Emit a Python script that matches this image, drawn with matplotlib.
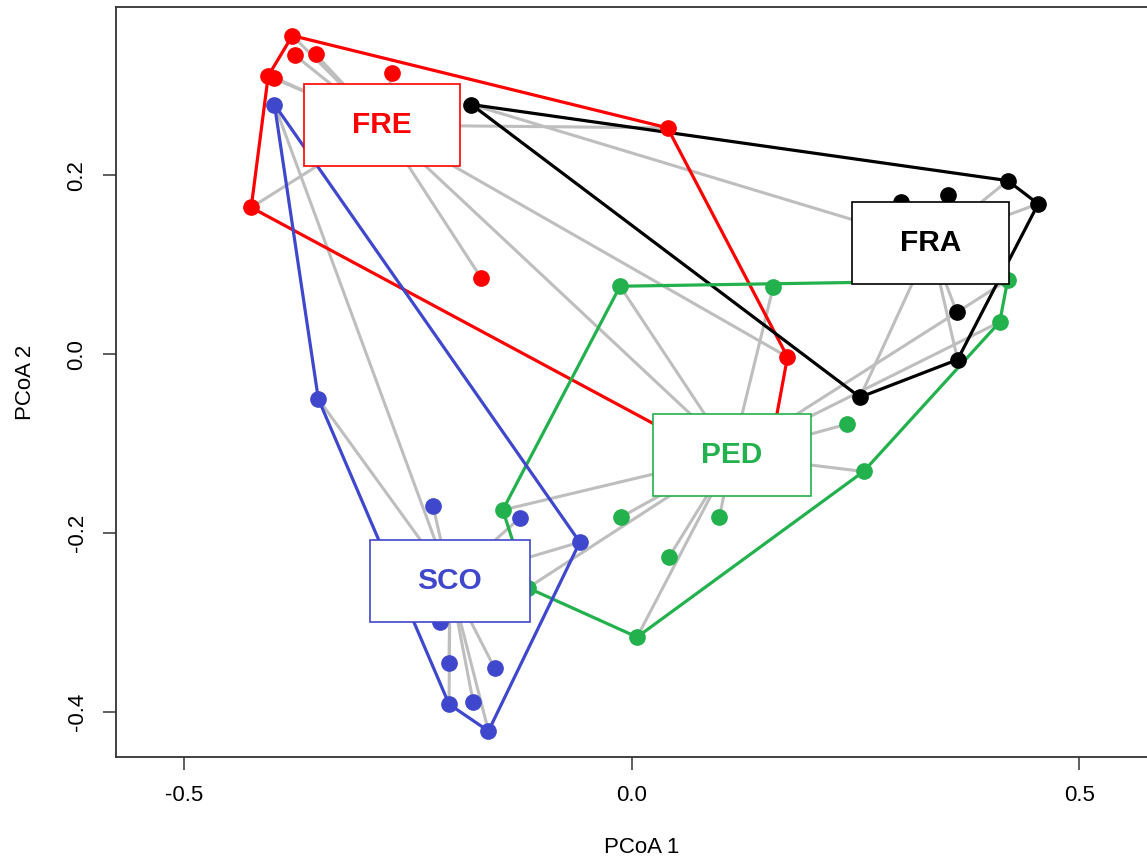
import matplotlib
matplotlib.use('Agg')
import matplotlib.pyplot as plt
from matplotlib.patches import Rectangle
import numpy as np

plt.rcParams['font.family'] = ['Liberation Sans', 'DejaVu Sans']

# site scores per group (PCoA 1, PCoA 2)
fre_x = [-0.379, -0.376, -0.353, -0.268, -0.406, -0.399, -0.425, -0.168, 0.040, 0.174, 0.148]
fre_y = [0.356, 0.334, 0.335, 0.314, 0.311, 0.309, 0.164, 0.085, 0.253, -0.003, -0.144]

fra_x = [-0.179, 0.420, 0.454, 0.353, 0.301, 0.363, 0.364, 0.255]
fra_y = [0.279, 0.194, 0.168, 0.178, 0.170, 0.047, -0.006, -0.048]

ped_x = [-0.013, 0.158, 0.420, 0.411, 0.241, 0.259, -0.144, -0.012, 0.098, 0.042, 0.006, -0.116]
ped_y = [0.076, 0.075, 0.083, 0.036, -0.078, -0.131, -0.174, -0.182, -0.182, -0.226, -0.316, -0.261]

sco_x = [-0.399, -0.350, -0.222, -0.125, -0.058, -0.214, -0.204, -0.153, -0.204, -0.177, -0.160]
sco_y = [0.279, -0.050, -0.169, -0.183, -0.210, -0.299, -0.345, -0.351, -0.391, -0.389, -0.421]

groups = ['FRE', 'FRA', 'PED', 'SCO']
colors = ['#FF0000', '#000000', '#22B14C', '#3F48CC']
# group centres (spider hubs / label positions)
cen_x = [-0.279, 0.334, 0.112, -0.203]
cen_y = [0.256, 0.124, -0.113, -0.253]

xs = [fre_x, fra_x, ped_x, sco_x]
ys = [fre_y, fra_y, ped_y, sco_y]


def convex_hull(px, py):
    pts = sorted(set(zip(px, py)))
    def cross(o, a, b):
        return (a[0] - o[0]) * (b[1] - o[1]) - (a[1] - o[1]) * (b[0] - o[0])
    lower, upper = [], []
    for p in pts:
        while len(lower) >= 2 and cross(lower[-2], lower[-1], p) <= 0:
            lower.pop()
        lower.append(p)
    for p in reversed(pts):
        while len(upper) >= 2 and cross(upper[-2], upper[-1], p) <= 0:
            upper.pop()
        upper.append(p)
    hull = lower[:-1] + upper[:-1]
    hull.append(hull[0])
    return np.array(hull)


W, H = 1147, 866
fig = plt.figure(figsize=(W / 100, H / 100), dpi=100)
ax_l, ax_r, ax_b, ax_t = 116, 1168, 757, 7
ax = fig.add_axes([ax_l / W, (H - ax_b) / H, (ax_r - ax_l) / W, (ax_b - ax_t) / H])
ax.set_xlim(-0.576, 0.599)
ax.set_ylim(-0.450, 0.388)

# spider lines
for gx, gy, cx, cy in zip(xs, ys, cen_x, cen_y):
    for px, py in zip(gx, gy):
        ax.plot([cx, px], [cy, py], color='#BEBEBE', lw=2.2, zorder=1, solid_capstyle='butt')

# hulls
for gx, gy, c in zip(xs, ys, colors):
    h = convex_hull(gx, gy)
    ax.plot(h[:, 0], h[:, 1], color=c, lw=2.3, zorder=2)

# points
for gx, gy, c in zip(xs, ys, colors):
    ax.plot(gx, gy, 'o', color=c, ms=11, mec=c, zorder=3)

# labels in boxes at group centres
fig.canvas.draw()
r = fig.canvas.get_renderer()
ux = (0.599 + 0.576) / (ax_r - ax_l)
uy = (0.388 + 0.450) / (ax_b - ax_t)
for g, c, cx, cy in zip(groups, colors, cen_x, cen_y):
    t = ax.text(cx, cy, g, color=c, fontsize=21.5, fontweight='bold',
                ha='center', va='center', zorder=6)
    bb = t.get_window_extent(r)
    bw = (bb.width + 96) * ux
    bh = 82 * uy
    ax.add_patch(Rectangle((cx - bw / 2, cy - bh / 2), bw, bh, facecolor='white',
                           edgecolor=c, lw=1.2, zorder=5))

ax.set_xticks([-0.5, 0.0, 0.5])
ax.set_xticklabels(['-0.5', '0.0', '0.5'])
ax.set_yticks([-0.4, -0.2, 0.0, 0.2])
ax.set_yticklabels(['-0.4', '-0.2', '0.0', '0.2'], rotation=90, va='center')
ax.tick_params(length=9.5, width=1.1, labelsize=16, pad=11, color='#333333')
for s in ax.spines.values():
    s.set_linewidth(1.3)
    s.set_color('#333333')
ax.set_xlabel('PCoA 1', fontsize=16, labelpad=22)
ax.set_ylabel('PCoA 2', fontsize=16, labelpad=22)

fig.savefig('out.png', dpi=100)
